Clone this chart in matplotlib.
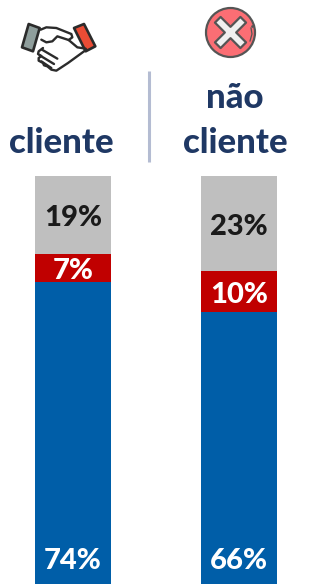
import matplotlib
matplotlib.use('Agg')
import matplotlib.pyplot as plt
from matplotlib.patches import Circle, Polygon
from matplotlib.transforms import Affine2D
import numpy as np

plt.rcParams['font.family'] = ['Lato', 'DejaVu Sans']

# dados
categorias = ['cliente', 'não\ncliente']
azul = [74, 66]
vermelho = [7, 10]
cinza = [19, 23]
series = [azul, vermelho, cinza]
cores = ['#005ea8', '#c00000', '#bfbfbf']
cores_texto = ['white', 'white', '#1a1a1a']

fig = plt.figure(figsize=(3.2, 5.84), dpi=100)

# barras empilhadas (100%)
ax = fig.add_axes([0, 0, 1, 408 / 584])
total = np.sum(series, axis=0)
x = np.arange(len(categorias))
base = np.zeros(len(categorias))
for s, cor, ct, i in zip(series, cores, cores_texto, range(3)):
    alt = np.array(s) / total * 100
    ax.bar(x, alt, width=76 / 166, bottom=base, color=cor, linewidth=0)
    for j in x:
        if i == 0:
            # rotulo do azul fica no pe da barra
            y = base[j] + 6.5
        else:
            y = base[j] + alt[j] / 2
        ax.annotate(f'{s[j]}%', (j, y), xytext=(0, -2.5), textcoords='offset points',
                    color=ct, ha='center', va='center', fontsize=21, fontweight='black')
    base = base + alt
ax.set_xlim(-73 / 166, 1 + 81 / 166)
ax.set_ylim(0, 100)
ax.axis('off')

# camada de cima em pixels: titulos, divisoria e icones
top = fig.add_axes([0, 0, 1, 1])
top.set_xlim(0, 320)
top.set_ylim(584, 0)
top.axis('off')
top.patch.set_alpha(0)

azul_escuro = '#1f3864'
top.text(61.5, 143, categorias[0], color=azul_escuro, ha='center', va='center',
         fontsize=25, fontweight='black')
top.text(235, 120.5, categorias[1], color=azul_escuro, ha='center', va='center',
         fontsize=25, fontweight='black', linespacing=1.5)
top.plot([148.5, 148.5], [71, 162], color='#b4bcd2', lw=2.2, solid_capstyle='butt')


def zz(pts):
    return [(18 + a / 3, 18 + b / 3) for a, b in pts]


# icone: aperto de maos
esc = '#2b2b2b'
top.add_patch(Polygon(zz([(32, 18), (65, 30), (45, 100), (12, 88)]), closed=True,
                      fc='#8f9e9c', ec=esc, lw=1.9, joinstyle='round'))
top.add_patch(Polygon(zz([(168, 30), (198, 18), (232, 85), (203, 100)]), closed=True,
                      fc='#ea4c35', ec=esc, lw=1.9, joinstyle='round'))
tracos = [
    [(68, 35), (85, 28), (115, 30), (160, 48), (163, 58), (152, 66), (118, 55), (103, 70), (85, 73), (70, 65)],
    [(152, 66), (178, 88), (203, 92)],
    [(75, 90), (62, 100), (60, 108), (70, 114), (62, 120), (62, 128), (75, 135), (78, 142), (88, 145),
     (100, 155), (115, 158), (150, 135), (205, 95)],
    [(72, 95), (118, 122)],
    [(65, 112), (108, 138)],
    [(70, 130), (100, 150)],
]
for t in tracos:
    p = np.array(zz(t))
    top.plot(p[:, 0], p[:, 1], color=esc, lw=1.7, solid_capstyle='round', solid_joinstyle='round')

# icone: x
cx, cy = 230.5, 32.5
top.add_patch(Circle((cx, cy), 24.5, fc='#fb6e74', ec='#555555', lw=1.6))
rot = Affine2D().rotate_deg_around(cx, cy, 45) + top.transData
cruz = [(-4, -18), (4, -18), (4, -4), (18, -4), (18, 4), (4, 4), (4, 18), (-4, 18), (-4, 4), (-18, 4), (-18, -4), (-4, -4)]
cruz = [(cx + a, cy + b) for a, b in cruz]
top.add_patch(Polygon(cruz, closed=True, fc='#f0f0f0', ec='#555555', lw=1.6, transform=rot, joinstyle='round'))
top.plot([251, 252, 250], [28, 34, 41], color='#555555', lw=0.9)
top.plot([251.5], [26], marker='o', ms=0.9, color='#555555')

fig.savefig('out.png', dpi=100)
